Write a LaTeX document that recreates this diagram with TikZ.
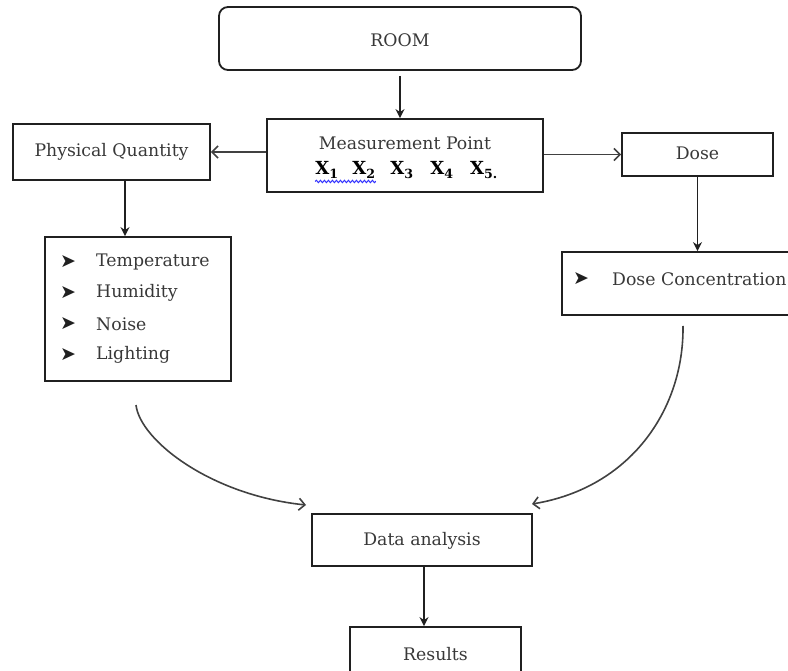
\documentclass[tikz,border=0pt]{standalone}
\usepackage{fontspec}
\setmainfont{DejaVu Serif}
\newfontfamily\symfont{DejaVu Sans}
\usetikzlibrary{arrows.meta,calc,decorations.pathmorphing}
\definecolor{txt}{HTML}{383838}
\definecolor{ln}{HTML}{202020}
\tikzset{
  box/.style={draw=ln,line width=1.8pt,rectangle,inner sep=0pt},
  lbl/.style={text=txt,font=\fontsize{17.3}{20}\selectfont,inner sep=0pt},
  xl/.style={text=black,font=\fontsize{18}{21}\selectfont\bfseries,inner sep=0pt},
  bul/.style={text=ln,font=\symfont\fontsize{19}{21}\selectfont,inner sep=0pt},
  fa/.style={draw=ln,line width=1.6pt,-{Stealth[length=9pt,width=9pt]}},
  oa/.style={draw=ln!85,line width=1.6pt,-{Straight Barb[length=6pt,width=12pt]}},
}
\begin{document}
\begin{tikzpicture}[x=1pt,y=-1pt]
\useasboundingbox (0,0) rectangle (788,671);
\clip (0,0) rectangle (788,671);
% boxes
\node[box,rounded corners=9pt,minimum width=362pt,minimum height=63pt] (room) at (400,38.5) {};
\node[box,minimum width=276pt,minimum height=73pt] (mp) at (405,155.5) {};
\node[box,minimum width=197pt,minimum height=56pt] (pq) at (111.5,152) {};
\node[box,minimum width=186pt,minimum height=144pt] (list) at (138,309) {};
\node[box,minimum width=151pt,minimum height=43pt] (dose) at (697.5,154.5) {};
\node[box,minimum width=240pt,minimum height=63pt] (dc) at (682,283.5) {};
\node[box,minimum width=220pt,minimum height=52pt] (da) at (422,540) {};
\node[box,minimum width=171pt,minimum height=62pt] (res) at (435.5,658) {};
% texts
\node[lbl] (troom) at (400,40) {ROOM};
\node[lbl] (tmp) at (405,143) {Measurement Point};
\node[xl] (x1) at (327,170) {X\textsubscript{1}};
\node[xl] (x2) at (364,170) {X\textsubscript{2}};
\node[xl] (x3) at (402,170) {X\textsubscript{3}};
\node[xl] (x4) at (442,170) {X\textsubscript{4}};
\node[xl] (x5) at (484,170) {X\textsubscript{5.}};
\draw[blue!80,line width=1pt,decorate,decoration={snake,amplitude=1.2pt,segment length=4pt}] ($(x1.south west)+(0,3)$) -- ($(x2.south east)+(0,3)$);
\node[lbl] (tpq) at (111.5,152) {Physical Quantity};
\node[lbl] (tdose) at (697.5,153) {Dose};
\node[lbl] (tda) at (422,541) {Data analysis};
\node[lbl] (tres) at (435.5,654) {Results};
\foreach \t/\y/\n in {Temperature/262/a,Humidity/293/b,Noise/324/c,Lighting/355/d}{
  \node[bul] (b\n) at (68,\y) {➤};
  \node[lbl,anchor=west] (t\n) at (96,\y) {\t};
}
\node[bul] (bdc) at (581,279) {➤};
\node[lbl,anchor=west] (tdc) at (612,279) {Dose Concentration};
% connectors
\draw[fa] ($(room.south)+(0,5)$) -- (mp.north -| room.south);
\draw[oa] (mp.west |- pq.east) -- (pq.east);
\draw[oa] (mp.east |- dose.west) -- (dose.west);
\draw[fa] ($(pq.south)+(13.5,0)$) -- ($(list.north)+(-13,0)$);
\draw[fa] (dose.south) -- (dose.south |- dc.north);
\coordinate (l1) at (136,405);
\coordinate (l2) at (306,505);
\draw[oa] (l1) .. controls (140,440) and (210,495) .. (l2);
\coordinate (r1) at (683,326);
\coordinate (r2) at (532,504);
\draw[oa] (r1) .. controls (684,410) and (630,488) .. (r2);
\draw[fa] ($(da.south)+(2,0)$) -- ($(res.north)+(-11.5,0)$);
\end{tikzpicture}
\end{document}
